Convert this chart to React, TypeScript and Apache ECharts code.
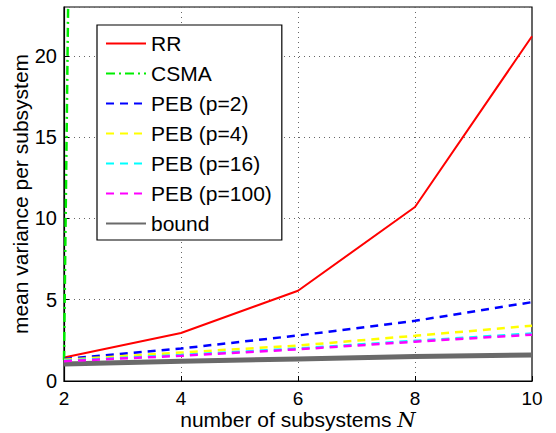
import React, { useEffect, useRef } from "react";
import * as echarts from "echarts";

const N = [2, 4, 6, 8, 10];
const rr = [1.45, 2.95, 5.55, 10.7, 21.2];
const csmaX = [2, 4];
const csma = [1.3, 620];
const peb2 = [1.35, 2.0, 2.8, 3.7, 4.85];
const peb4 = [1.3, 1.75, 2.18, 2.78, 3.4];
const peb16 = [1.25, 1.6, 2.0, 2.47, 2.92];
const peb100 = [1.22, 1.55, 1.95, 2.42, 2.85];
const bound = [1.05, 1.22, 1.36, 1.5, 1.6];
const yTicks = { min: 0, max: 23, interval: 5 };
const xTicks = { min: 2, max: 10, interval: 2 };

const FONT = "Liberation Sans, Arial, Helvetica, sans-serif";

export default function App() {
  const ref = useRef<HTMLDivElement>(null);
  useEffect(() => {
    if (!ref.current) return;
    const chart = echarts.init(ref.current, undefined, { renderer: "svg" });
    const pts = (ys: number[]) => N.map((x, i) => [x, ys[i]]);
    const mk = (name: string, data: number[][], color: string, width: number, type: any, z = 2) => ({
      name,
      type: "line",
      data,
      symbol: "none",
      showSymbol: false,
      z,
      lineStyle: { color, width, type },
      itemStyle: { color },
    });
    chart.setOption({
      animation: false,
      backgroundColor: "#fff",
      grid: {
        left: 64,
        right: 24,
        top: 7,
        bottom: 52,
        show: true,
        borderColor: "#000",
        borderWidth: 1.2,
        containLabel: false,
        outerBoundsMode: "none",
      },
      legend: {
        orient: "vertical",
        left: 97,
        top: 25,
        padding: [8, 10, 6, 8],
        itemWidth: 40,
        itemHeight: 14,
        itemGap: 9,
        backgroundColor: "#fff",
        borderColor: "#000",
        borderWidth: 1.2,
        borderRadius: 0,
        itemStyle: { opacity: 0 },
        textStyle: { fontFamily: FONT, fontSize: 21, color: "#000", padding: [0, 0, 0, 0], lineHeight: 19 },
        data: ["RR", "CSMA", "PEB (p=2)", "PEB (p=4)", "PEB (p=16)", "PEB (p=100)", "bound"],
      },
      xAxis: {
        type: "value",
        ...xTicks,
        name: "number of subsystems {i|N}",
        nameLocation: "middle",
        nameGap: 28,
        nameMoveOverlap: false,
        nameTextStyle: {
          fontFamily: FONT,
          fontSize: 21,
          color: "#000",
          rich: { i: { fontFamily: "DejaVu Serif, Liberation Serif, serif", fontStyle: "italic", fontSize: 21, color: "#000" } },
        },
        axisLine: { show: true, lineStyle: { color: "#000", width: 1.2 } },
        axisTick: { show: true, inside: true, length: 5, lineStyle: { color: "#000" } },
        axisLabel: { fontFamily: FONT, fontSize: 19, color: "#000", margin: 8 },
        splitLine: { show: true, lineStyle: { color: "#666", type: [1, 4], width: 1 } },
      },
      yAxis: {
        type: "value",
        ...yTicks,
        name: "mean variance per subsystem",
        nameLocation: "middle",
        nameGap: 33,
        nameMoveOverlap: false,
        nameTextStyle: { fontFamily: FONT, fontSize: 21, color: "#000" },
        axisLine: { show: true, lineStyle: { color: "#000", width: 1.2 } },
        axisTick: { show: true, inside: true, length: 5, lineStyle: { color: "#000" } },
        axisLabel: { fontFamily: FONT, fontSize: 20, color: "#000", margin: 7, showMaxLabel: false },
        splitLine: { show: true, lineStyle: { color: "#666", type: [1, 4], width: 1 } },
      },
      series: [
        mk("RR", pts(rr), "#ff0000", 2, "solid", 4),
        mk("CSMA", csmaX.map((x, i) => [x, csma[i]]), "#00ee00", 2.5, [9, 4, 2, 4], 4),
        mk("PEB (p=2)", pts(peb2), "#0000ff", 2.5, [8, 6], 4),
        mk("PEB (p=4)", pts(peb4), "#ffff00", 2.5, [8, 6], 4),
        mk("PEB (p=16)", pts(peb16), "#00ffff", 2.5, [8, 6], 4),
        mk("PEB (p=100)", pts(peb100), "#ff00ff", 2.5, [8, 6], 4),
        mk("bound", pts(bound), "#6a6a6a", 5, "solid", 3),
      ],
    });
    return () => chart.dispose();
  }, []);
  return <div ref={ref} style={{ position: "absolute", left: 0, top: 0, width: 556, height: 433 }} />;
}
